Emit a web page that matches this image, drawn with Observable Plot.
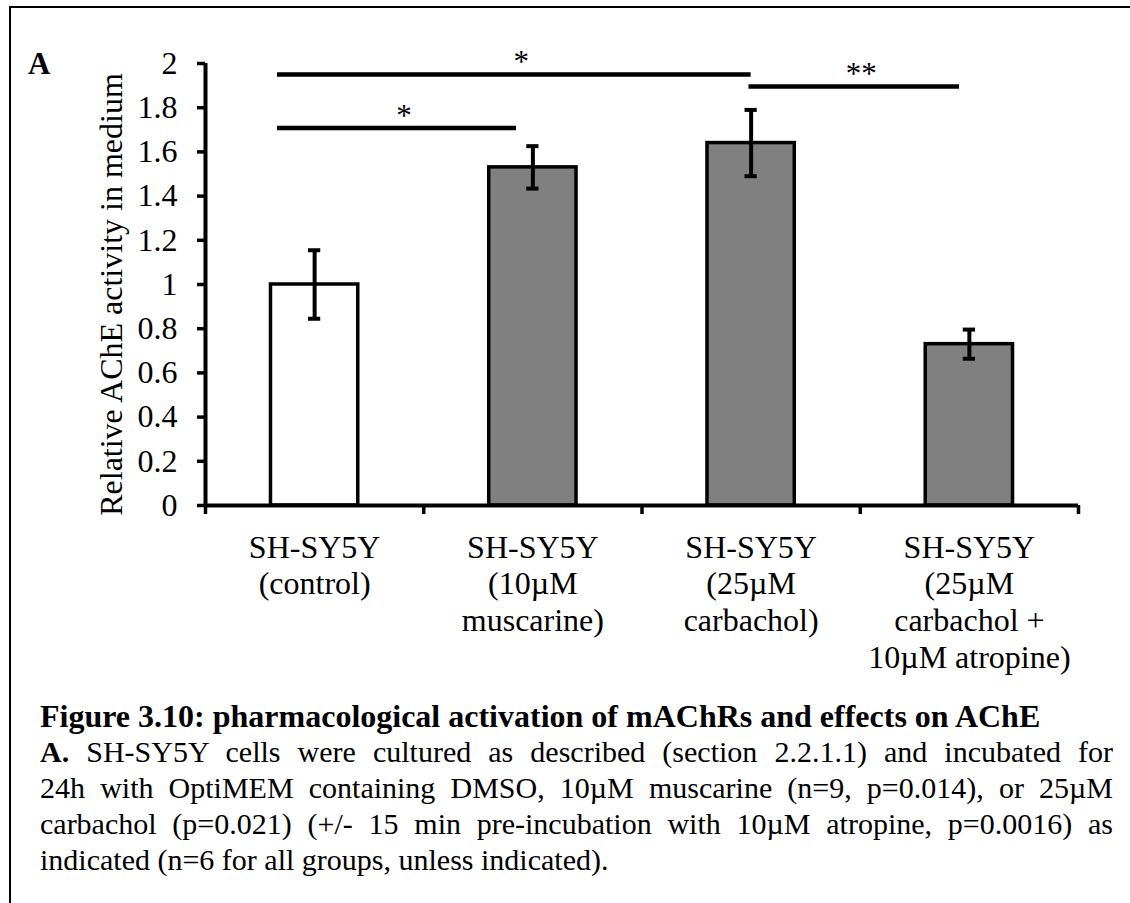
<!DOCTYPE html>
<html><head><meta charset="utf-8">
<script src="https://cdn.jsdelivr.net/npm/d3@7"></script>
<script src="https://cdn.jsdelivr.net/npm/@observablehq/plot@0.6"></script>
<style>
html,body{margin:0;padding:0;background:#fff;width:1130px;height:903px;overflow:hidden;}
body{position:relative;font-family:"Liberation Serif","Times New Roman",serif;color:#000;}
#frame{position:absolute;left:9px;top:6px;width:1300px;height:1100px;border-top:2px solid #000;border-left:2px solid #000;}
#chart{position:absolute;left:0;top:0;}
#panel{position:absolute;left:28px;top:48px;font-weight:bold;font-size:31px;line-height:1;}
#caption{position:absolute;left:40px;top:698px;width:1073px;font-size:30px;line-height:36px;}
#caption .h{font-size:32px;font-weight:bold;}
#caption .j{text-align:justify;text-align-last:justify;}
</style></head>
<body>
<div id="frame"></div>
<div id="chart"></div>
<div id="panel">A</div>
<div id="caption">
<div class="h">Figure 3.10: pharmacological activation of mAChRs and effects on AChE</div>
<div class="j"><b>A.</b> SH-SY5Y cells were cultured as described (section 2.2.1.1) and incubated for</div>
<div class="j">24h with OptiMEM containing DMSO, 10µM muscarine (n=9, p=0.014), or 25µM</div>
<div class="j">carbachol (p=0.021) (+/- 15 min pre-incubation with 10µM atropine, p=0.0016) as</div>
<div>indicated (n=6 for all groups, unless indicated).</div>
</div>
<script>
// Categories and values
const categories = ["SH-SY5Y\n(control)", "SH-SY5Y\n(10µM\nmuscarine)", "SH-SY5Y\n(25µM\ncarbachol)", "SH-SY5Y\n(25µM\ncarbachol +\n10µM atropine)"];
const means = [1.00, 1.53, 1.64, 0.73];
const errors = [0.155, 0.096, 0.150, 0.066];
const barFills = ["#ffffff", "#808080", "#808080", "#808080"];
const yTicks = [0, 0.2, 0.4, 0.6, 0.8, 1, 1.2, 1.4, 1.6, 1.8, 2];
const yLabel = "Relative AChE activity in medium";
// significance brackets (in category-index units)
const sigFrom = [-0.17, -0.17, 1.99];
const sigTo = [2.0, 0.925, 2.955];
const sigHeight = [1.95, 1.708, 1.896];
const sigLabel = ["*", "*", "**"];

const data = categories.map((c, i) => ({i, label: c, mean: means[i], err: errors[i], fill: barFills[i]}));
const sig = sigLabel.map((s, k) => ({from: sigFrom[k], to: sigTo[k], h: sigHeight[k], label: s}));

const halfBar = 0.2, halfCap = 0.028;
const chart = Plot.plot({
  width: 1130,
  height: 690,
  marginTop: 63,
  marginBottom: 185,
  marginLeft: 205,
  marginRight: 52,
  style: {fontFamily: '"Liberation Serif","Times New Roman",serif', background: "transparent", color: "#000"},
  x: {type: "linear", domain: [-0.5, 3.5]},
  y: {domain: [0, 2]},
  color: {type: "identity"},
  marks: [
    Plot.rectY(data, {x1: d => d.i - halfBar, x2: d => d.i + halfBar, y1: 0, y2: "mean", fill: d => d.fill, stroke: "#000", strokeWidth: 3.5}),
    Plot.ruleX(data, {x: "i", y1: d => d.mean - d.err, y2: d => d.mean + d.err, stroke: "#000", strokeWidth: 4}),
    Plot.ruleY(data, {x1: d => d.i - halfCap, x2: d => d.i + halfCap, y: d => d.mean + d.err, stroke: "#000", strokeWidth: 4}),
    Plot.ruleY(data, {x1: d => d.i - halfCap, x2: d => d.i + halfCap, y: d => d.mean - d.err, stroke: "#000", strokeWidth: 4}),
    Plot.ruleX([-0.5], {y1: 0, y2: 2, stroke: "#000", strokeWidth: 4}),
    Plot.ruleY([0], {x1: -0.5, x2: 3.5, stroke: "#000", strokeWidth: 4}),
    Plot.axisY({ticks: yTicks, tickSize: 8, tickPadding: 20, tickFormat: d => String(+d.toFixed(1)), fontSize: 32, strokeWidth: 3.5, label: null}),
    Plot.axisX({ticks: [-0.5, 0.5, 1.5, 2.5, 3.5], tickSize: 9, tickFormat: () => "", strokeWidth: 3.5, label: null}),
    Plot.text(data, {x: "i", y: 0, text: "label", lineAnchor: "top", dy: 26, fontSize: 32, lineHeight: 1.15, fill: "#000"}),
    Plot.text([yLabel], {frameAnchor: "left", text: d => d, rotate: -90, dx: -94, dy: 10, fontSize: 32, textAnchor: "middle", lineAnchor: "middle", fill: "#000"}),
    Plot.ruleY(sig, {x1: "from", x2: "to", y: "h", stroke: "#000", strokeWidth: 4.5}),
    Plot.text(sig, {x: d => (d.from + d.to) / 2, y: "h", text: "label", dx: 7, dy: -12, fontSize: 31, lineAnchor: "middle", fill: "#000"})
  ]
});
document.getElementById("chart").appendChild(chart);
</script>
</body></html>
